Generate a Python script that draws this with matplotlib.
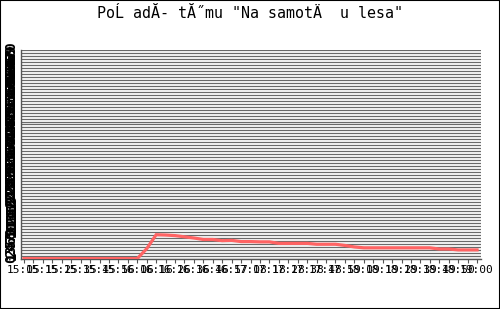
import numpy as np
import matplotlib.pyplot as plt
from matplotlib.patches import Rectangle

# Poradi tymu v case
casy = ["15:05", "15:15", "15:25", "15:35", "15:45", "15:56", "16:06", "16:16",
        "16:26", "16:36", "16:46", "16:57", "17:08", "17:18", "17:28", "17:38",
        "17:48", "17:59", "18:09", "18:19", "18:29", "18:39", "18:49", "18:50",
        "19:00"]
poradi = [0, 0, 0, 0, 0, 0, 0, 0, 0, 0, 0, 0, 0, 3.3, 8.0, 7.9, 7.7, 7.3,
          6.9, 6.4, 6.4, 6.0, 6.1, 5.7, 5.7, 5.6, 5.6, 5.1, 5.1, 5.1, 5.1,
          4.8, 4.8, 4.8, 4.4, 3.9, 3.6, 3.6, 3.6, 3.6, 3.6, 3.6, 3.6, 3.6,
          3.2, 3.2, 2.9, 2.9, 2.9]
y_ticks = list(range(0, 71))

titulek = 'PoĹ adĂ- tĂ˝mu "Na samotÄ  u lesa"'

fig = plt.figure(figsize=(5.0, 3.09), dpi=100)
ax = fig.add_axes([21 / 500, 1 - 259 / 309, 460 / 500, 209 / 309])

x = np.arange(len(poradi))
ax.plot(x, poradi, color='#ff6464', linewidth=2.3, solid_joinstyle='miter', zorder=3)

ax.set_xlim(-0.32, 48.42)
ax.set_ylim(-0.15, 70)

# mrizka
ax.set_yticks(y_ticks)
ax.set_yticklabels([str(v) for v in y_ticks], rotation=90, family='DejaVu Sans Mono',
                   fontsize=10, fontweight='bold', va='center', ha='center')
ax.yaxis.grid(True, color='#6a6a6a', linewidth=0.9)
ax.tick_params(axis='y', length=0, pad=7)

ax.set_xticks(x[::2])
ax.set_xticks(x[1::2], minor=True)
ax.set_xticklabels(casy, family='DejaVu Sans Mono', fontsize=8)
ax.tick_params(axis='x', which='both', direction='out', length=3, width=0.8,
               color='#555555', pad=1)

for s in ['top', 'right']:
    ax.spines[s].set_visible(False)
for s in ['left', 'bottom']:
    ax.spines[s].set_color('#555555')
    ax.spines[s].set_linewidth(1.0)

fig.text(0.5, 1 - 13 / 309, titulek, ha='center', va='center',
         family='DejaVu Sans Mono', fontsize=10.8)

fig.patches.append(Rectangle((0, 0), 1, 1, transform=fig.transFigure, fill=False,
                             edgecolor='black', linewidth=1.5))

fig.savefig('out.png', dpi=100)
